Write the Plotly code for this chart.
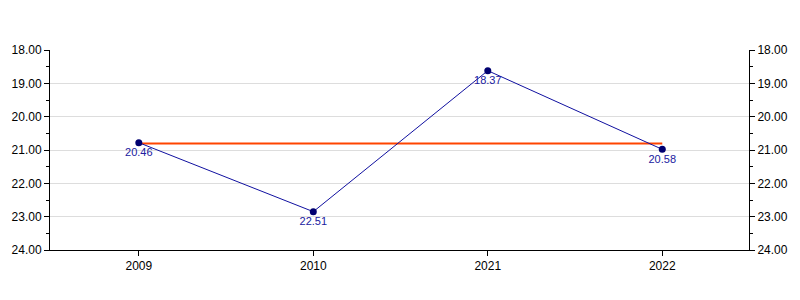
import plotly.graph_objects as go

years = ["2009", "2010", "2021", "2022"]
values = [20.78, 22.85, 18.62, 20.98]
value_labels = ["20.46", "22.51", "18.37", "20.58"]
y_ticks = [18, 19, 20, 21, 22, 23, 24]
y_tick_text = ["18.00", "19.00", "20.00", "21.00", "22.00", "23.00", "24.00"]

mean_val = sum(values) / len(values)

fig = go.Figure()
fig.add_trace(go.Scatter(
    x=[years[0], years[-1]], y=[mean_val, mean_val], mode="lines",
    line=dict(color="#ff4500", width=2), hoverinfo="skip", showlegend=False))
fig.add_trace(go.Scatter(
    x=years, y=values, mode="lines+markers+text",
    line=dict(color="#1010a0", width=1),
    marker=dict(color="#000070", size=7),
    text=value_labels, textposition="bottom center",
    textfont=dict(family="Liberation Sans, Arial, sans-serif", size=11, color="#2020a0"),
    showlegend=False))
# invisible trace for right axis
fig.add_trace(go.Scatter(x=years, y=values, yaxis="y2", mode="markers",
                         marker=dict(opacity=0), hoverinfo="skip", showlegend=False))

axis_font = dict(family="Liberation Sans, Arial, sans-serif", size=12, color="#000")
yax = dict(
    range=[24, 18], tickvals=y_ticks, ticktext=y_tick_text,
    ticks="outside", ticklen=5, tickcolor="#000", tickfont=axis_font,
    showline=True, linecolor="#000", linewidth=1,
    showgrid=True, gridcolor="#dddddd", gridwidth=1, zeroline=False,
    minor=dict(ticks="outside", ticklen=3, tickcolor="#000", dtick=0.5, tick0=18, showgrid=False),
)
fig.update_layout(
    width=800, height=300,
    margin=dict(l=49, r=50, t=50, b=50),
    paper_bgcolor="white", plot_bgcolor="white",
    xaxis=dict(type="category", categoryorder="array", categoryarray=years,
               range=[-0.509, 3.497], showline=True, linecolor="#000",
               ticks="outside", ticklen=5, tickcolor="#000", tickfont=axis_font,
               showgrid=False, zeroline=False),
    yaxis=yax,
    yaxis2=dict(yax, overlaying="y", side="right", showgrid=False),
)
fig.write_html("out.html")
